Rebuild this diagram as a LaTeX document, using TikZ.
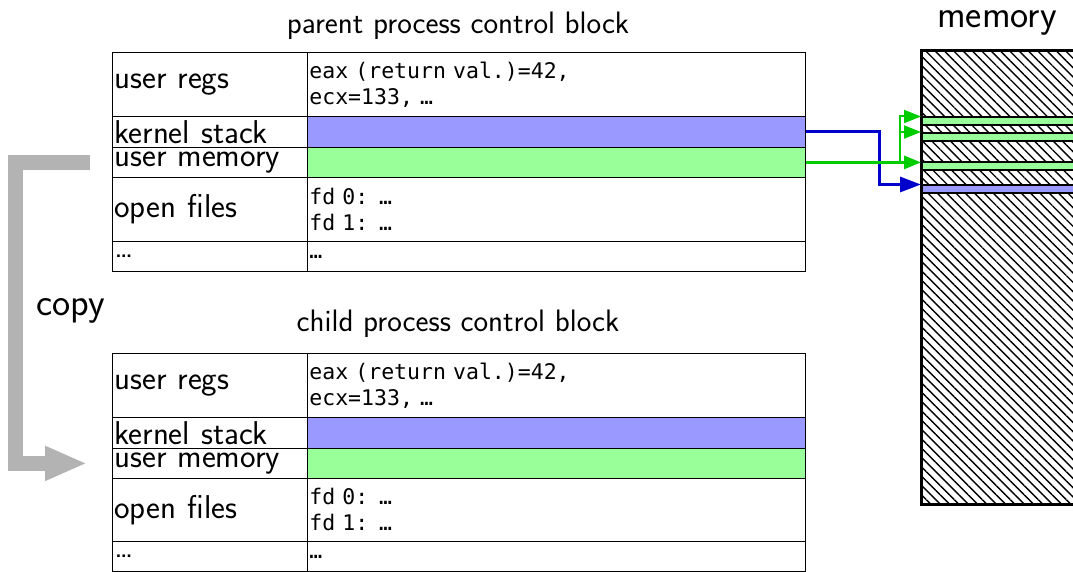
\documentclass[tikz,border=0pt]{standalone}
\usepackage{fontspec}
\setmonofont{DejaVu Sans Mono}
\usetikzlibrary{arrows.meta,patterns.meta}
\definecolor{kblue}{HTML}{9999FF}
\definecolor{ugreen}{HTML}{99FF99}
\definecolor{ablue}{HTML}{0000CC}
\definecolor{agreen}{HTML}{00CC00}
\definecolor{copygray}{HTML}{B3B3B3}
\begin{document}
\begin{tikzpicture}[x=1pt,y=-1pt,
  cellbase/.style={draw=black, line width=0.8pt, anchor=north west, inner xsep=2pt, inner ysep=0pt, align=left},
  lcell/.style={cellbase, text width=191pt, minimum height=#1, font=\fontsize{33}{33}\sffamily},
  rcell/.style={cellbase, text width=494pt, minimum height=#1, font=\fontsize{21.5}{26}\ttfamily},
  dotl/.style={cellbase, text width=191pt, minimum height=#1, font=\fontsize{32}{32}\sffamily},
  title/.style={anchor=base, font=\fontsize{31}{31}\sffamily},
  bigtitle/.style={anchor=base, inner sep=0pt, font=\fontsize{38.5}{38.5}\sffamily},
  stripe/.style={draw=black, line width=1.8pt, anchor=north west, inner sep=0pt, minimum width=200pt, minimum height=8pt},
  memlink/.style={line width=3pt},
]
\path[use as bounding box, clip] (0,0) rectangle (1073,572);

% titles
\node[title] (tp) at (458,34) {parent process control block};
\node[title] (tc) at (458,331) {child process control block};
\node[bigtitle] (tm) at (997,28) {memory};
\node[bigtitle] (tcopy) at (71,315) {copy};

% parent table
\node[lcell=64pt] (pur) at (112,52) {user regs};
\node[rcell=64pt] (purv) at (307,52) {eax (return val.)=42,\\ecx=133, …};
\node[lcell=31pt] (pks) at (112,116) {kernel stack};
\node[rcell=31pt, fill=kblue] (pksv) at (307,116) {};
\node[lcell=30pt] (pum) at (112,147) {user memory};
\node[rcell=30pt, fill=ugreen] (pumv) at (307,147) {};
\node[lcell=64pt] (pof) at (112,177) {open files};
\node[rcell=64pt] (pofv) at (307,177) {fd 0: …\\fd 1: …};
\node[dotl=30pt] (pdd) at (112,241) {…};
\node[rcell=30pt] (pddv) at (307,241) {…};

% child table
\node[lcell=64pt] (cur) at (112,353) {user regs};
\node[rcell=64pt] (curv) at (307,353) {eax (return val.)=42,\\ecx=133, …};
\node[lcell=31pt] (cks) at (112,417) {kernel stack};
\node[rcell=31pt, fill=kblue] (cksv) at (307,417) {};
\node[lcell=30pt] (cum) at (112,448) {user memory};
\node[rcell=30pt, fill=ugreen] (cumv) at (307,448) {};
\node[lcell=63pt] (cof) at (112,478) {open files};
\node[rcell=63pt] (cofv) at (307,478) {fd 0: …\\fd 1: …};
\node[dotl=30pt] (cdd) at (112,541) {…};
\node[rcell=30pt] (cddv) at (307,541) {…};

% memory
\node[draw=black, line width=3pt, anchor=north west, inner sep=0pt, minimum width=200pt, minimum height=454pt,
  pattern={Lines[angle=-45,distance=6.6pt,line width=1.4pt]}] (mem) at (921,50) {};
\node[stripe, fill=ugreen] (m1) at (921,116.5) {};
\node[stripe, fill=ugreen] (m2) at (921,132) {};
\node[stripe, fill=ugreen] (m3) at (921,161.5) {};
\node[stripe, fill=kblue] (m4) at (921,184.5) {};

% links to memory
\draw[memlink, ablue, -{Triangle[length=21pt,width=15pt]}]
  (pksv.east) -- ([xshift=74pt]pksv.east) |- (m4.north west);
\draw[memlink, agreen, -{Triangle[length=17pt,width=13pt]}]
  (pumv.east) -- (pumv.east -| m3.west);
\coordinate (gb) at ([xshift=94pt]pumv.east);
\draw[line width=2pt, agreen, -{Triangle[length=17pt,width=13pt]}] (gb) |- (m1.north west);
\draw[line width=2pt, agreen, -{Triangle[length=17pt,width=13pt]}] (gb) |- (m2.north west);

% copy arrow
\coordinate (cs) at ([xshift=-22pt]pum.west);
\coordinate (ce) at ([xshift=-25pt]cum.west);
\draw[copygray, line width=15pt, line join=miter, -{Triangle[length=42pt,width=32pt]}]
  (cs) -- ++(-75,0) |- (ce);
\end{tikzpicture}
\end{document}
